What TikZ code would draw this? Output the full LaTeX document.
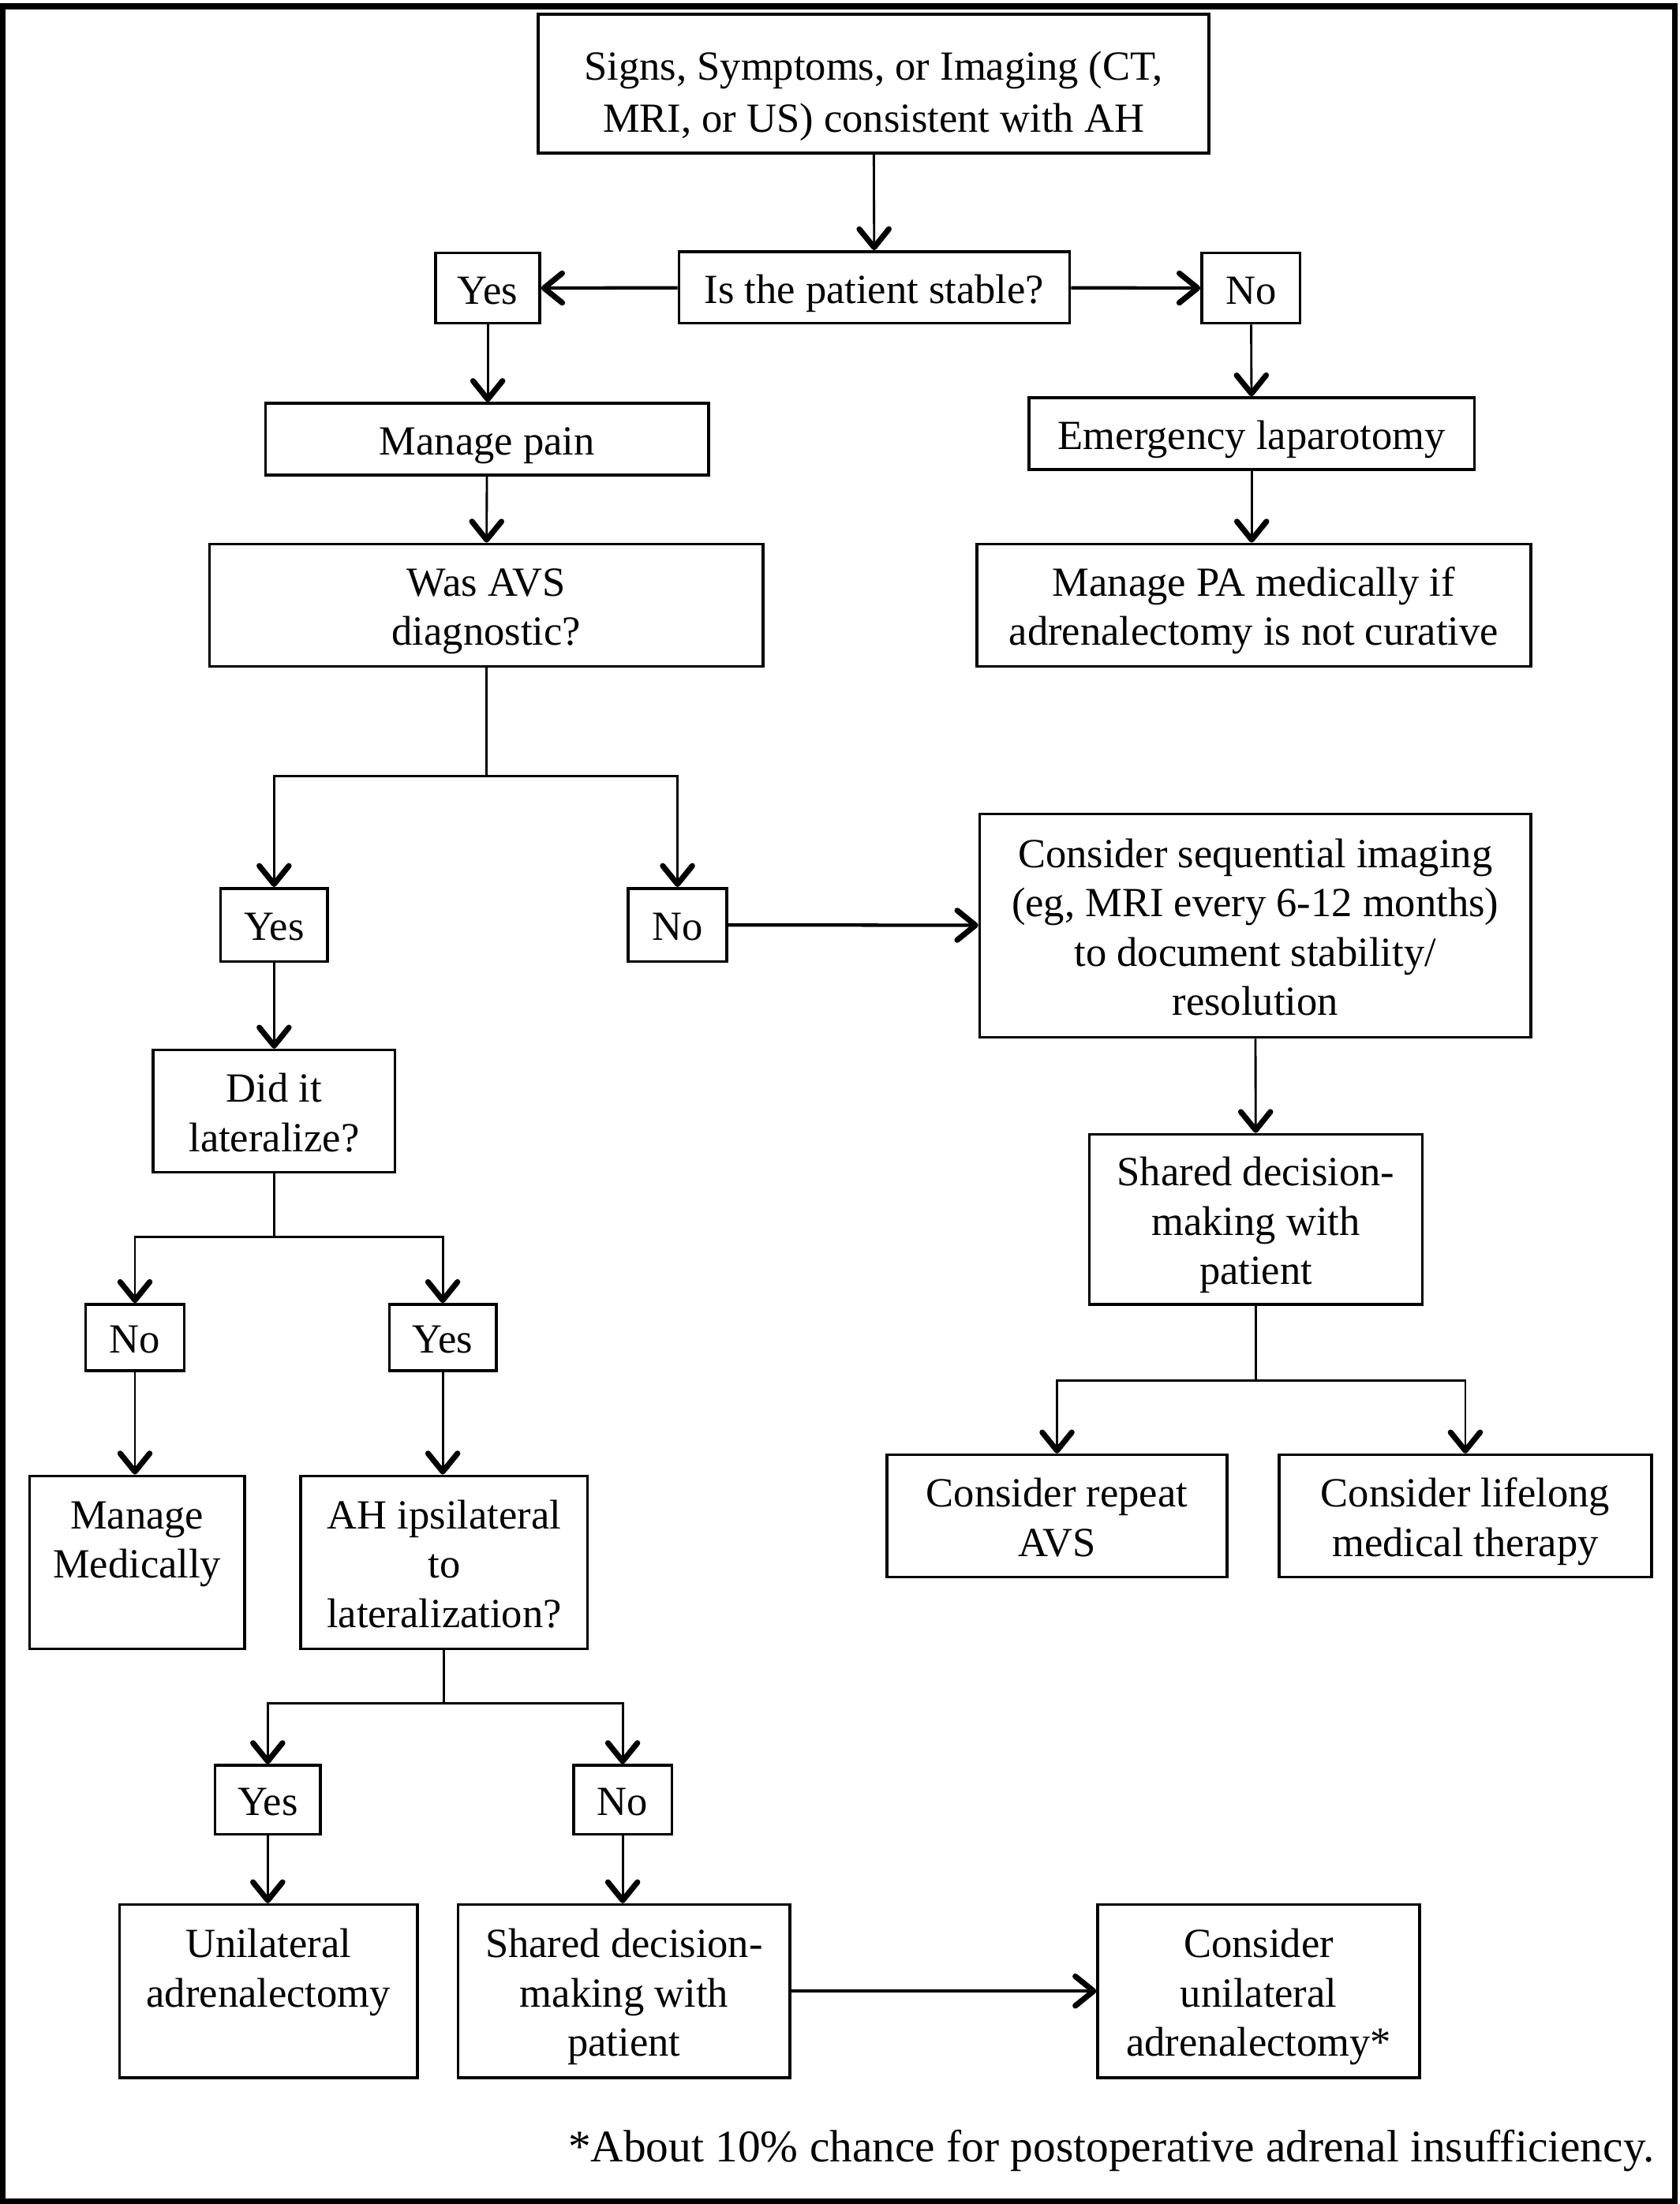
\documentclass[tikz,border=0pt]{standalone}
\usepackage{fontspec}
\setmainfont{Liberation Serif}
\usetikzlibrary{arrows.meta}
\newcommand\bx[2][10.4pt]{\raisebox{-#1}[0pt][0pt]{\begin{tabular}{@{}c@{}}#2\end{tabular}}}
\begin{document}
\begin{tikzpicture}[x=1pt,y=-1pt,
  box/.style={draw,line width=2pt,inner sep=0pt,
    font=\fontsize{29.5}{35}\selectfont},
  tip/.tip={Straight Barb[length=13pt,width=21pt,line width=4pt 0,round]},
  conn/.style={line width=1.6pt},
  arr/.style={line width=1.6pt,-tip},
  harr/.style={line width=2.4pt,-tip}]
\useasboundingbox (0,0) rectangle (1195,1568);
\draw[line width=4pt] (1.8,4.5) rectangle (1191.5,1566);

\node[box,font=\fontsize{29.5}{37}\selectfont,minimum width=477,minimum height=99] (top) at (621.5,59.5)
  {\bx[14.6pt]{Signs, Symptoms, or Imaging (CT,\\MRI, or US) consistent with AH}};
\node[box,minimum width=278,minimum height=51] (stable) at (622,204.5) {\bx{Is the patient stable?}};
\node[box,minimum width=74,minimum height=50] (yes1) at (347,205) {\bx{Yes}};
\node[box,minimum width=70,minimum height=50] (no1) at (890,205) {\bx{No}};
\node[box,minimum width=315,minimum height=51] (pain) at (346.5,312.5) {\bx{Manage pain}};
\node[box,minimum width=317,minimum height=51] (emerg) at (890.5,308.5) {\bx{Emergency laparotomy}};
\node[box,minimum width=394,minimum height=87] (avs) at (346,430.5) {\bx{Was AVS\\diagnostic?}};
\node[box,minimum width=394,minimum height=87] (pa) at (892,430.5)
  {\bx{Manage PA medically if\\adrenalectomy is not curative}};
\node[box,minimum width=76,minimum height=52] (yes2) at (195,658) {\bx{Yes}};
\node[box,minimum width=70,minimum height=52] (no2) at (482,658) {\bx{No}};
\node[box,minimum width=392,minimum height=159] (seq) at (893,658.5)
  {\bx{Consider sequential imaging\\(eg, MRI every 6-12 months)\\to document stability/\\resolution}};
\node[box,minimum width=172,minimum height=87] (lat) at (195,790.5) {\bx{Did it\\lateralize?}};
\node[box,minimum width=237,minimum height=121] (sdm1) at (893.5,867.5)
  {\bx{Shared decision-\\making with\\patient}};
\node[box,minimum width=70,minimum height=47] (no3) at (96,951.5) {\bx{No}};
\node[box,minimum width=76,minimum height=47] (yes3) at (315,951.5) {\bx{Yes}};
\node[box,minimum width=153,minimum height=123] (medic) at (97.5,1111.5)
  {\bx{Manage\\Medically\\\mbox{}}};
\node[box,minimum width=204,minimum height=123] (ipsi) at (316,1111.5)
  {\bx{AH ipsilateral\\to\\lateralization?}};
\node[box,minimum width=242,minimum height=87] (repeat) at (752,1078.5) {\bx{Consider repeat\\AVS}};
\node[box,minimum width=265,minimum height=87] (lifelong) at (1042.5,1078.5)
  {\bx{Consider lifelong\\medical therapy}};
\node[box,minimum width=75,minimum height=49] (yes4) at (190.5,1280.5) {\bx{Yes}};
\node[box,minimum width=70,minimum height=49] (no4) at (443,1280.5) {\bx{No}};
\node[box,minimum width=212,minimum height=123] (uni) at (191,1416.5)
  {\bx{Unilateral\\adrenalectomy\\\mbox{}}};
\node[box,minimum width=236,minimum height=123] (sdm2) at (444,1416.5)
  {\bx{Shared decision-\\making with\\patient}};
\node[box,minimum width=229,minimum height=123] (cuni) at (895.5,1416.5)
  {\bx{Consider\\unilateral\\adrenalectomy*}};
\node[anchor=east,inner sep=0pt,font=\fontsize{32.2}{38}\selectfont] (foot) at (1177,1530)
  {*About 10\% chance for postoperative adrenal insufficiency.};

\draw[arr] (top) -- (stable);
\draw[harr] (stable) -- (yes1);
\draw[harr] (stable) -- (no1);
\draw[arr] (yes1) -- (pain.north -| yes1);
\draw[arr] (no1) -- (emerg);
\draw[arr] (pain) -- (avs);
\draw[arr] (emerg) -- (pa.north -| emerg);

\coordinate (f1) at (346,552);
\draw[conn] (avs) -- (f1);
\draw[arr] (f1) -| (yes2);
\draw[arr] (f1) -| (no2);
\draw[harr] (no2) -- (seq);
\draw[arr] (yes2) -- (lat);
\draw[arr] (seq) -- (sdm1);

\coordinate (f2) at (893.5,982);
\draw[conn] (sdm1) -- (f2);
\draw[arr] (f2) -| (repeat);
\draw[arr] (f2) -| (lifelong);

\coordinate (f3) at (195,880);
\draw[conn] (lat) -- (f3);
\draw[arr] (f3) -| (no3);
\draw[arr] (f3) -| (yes3);
\draw[arr] (no3) -- (no3 |- medic.north);
\draw[arr] (yes3) -- (yes3 |- ipsi.north);

\coordinate (f4) at (316,1212);
\draw[conn] (ipsi) -- (f4);
\draw[arr] (f4) -| (yes4);
\draw[arr] (f4) -| (no4);
\draw[arr] (yes4) -- (yes4 |- uni.north);
\draw[arr] (no4) -- (no4 |- sdm2.north);
\draw[harr] (sdm2) -- (cuni);
\end{tikzpicture}
\end{document}
